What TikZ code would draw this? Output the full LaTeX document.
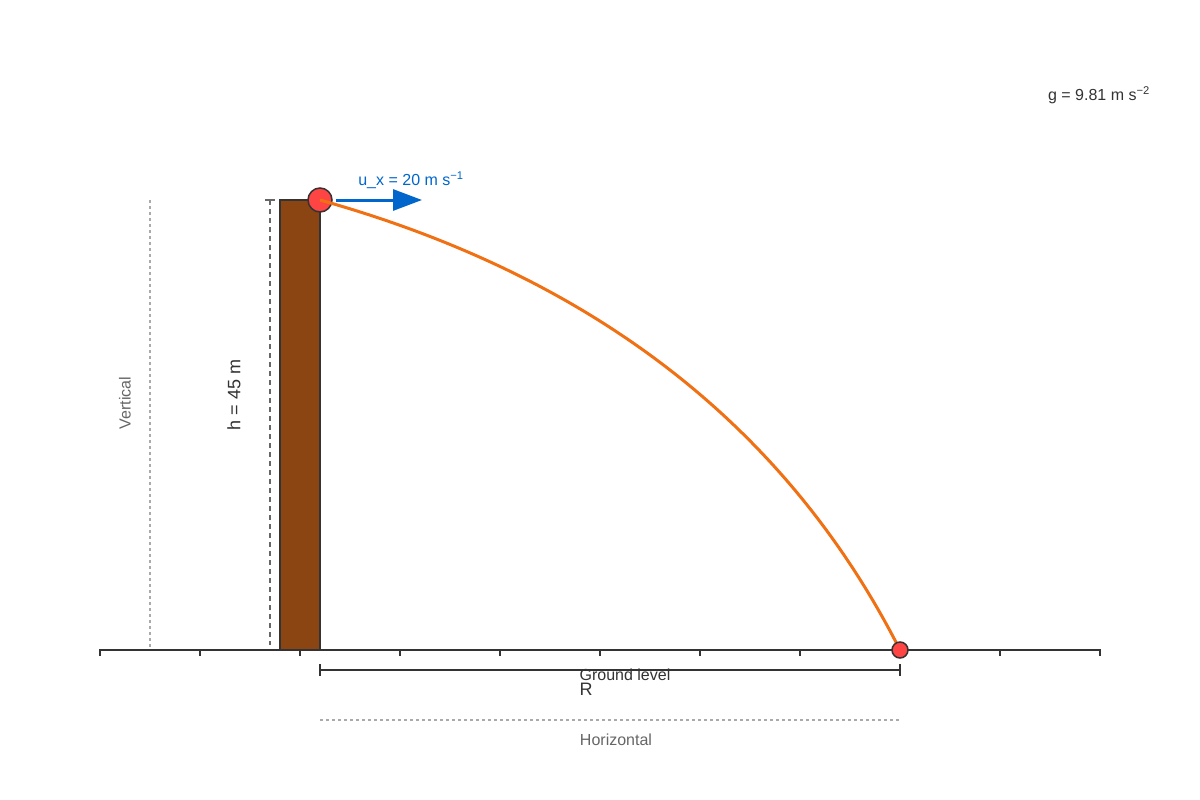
\documentclass[tikz,border=0pt]{standalone}
\usepackage{fontspec}
\setmainfont{Liberation Sans}
\usetikzlibrary{arrows.meta}

\definecolor{towerbrown}{HTML}{8B4513}
\definecolor{ballred}{HTML}{FF4444}
\definecolor{pathorange}{HTML}{F07014}
\definecolor{velblue}{HTML}{0066CC}
\definecolor{darkline}{HTML}{333333}
\definecolor{guidegray}{HTML}{AAAAAA}
\definecolor{labelgray}{HTML}{666666}

\tikzset{
  ball/.style={circle, draw=darkline, line width=1.5pt, fill=ballred, inner sep=0pt},
  label16/.style={font=\fontsize{16}{19}\selectfont, inner sep=0pt},
  guide/.style={guidegray, line width=2pt, dash pattern=on 3pt off 3pt}
}

\begin{document}
\begin{tikzpicture}[x=1pt, y=-1pt]
  \useasboundingbox (0,0) rectangle (1200,800);

  % Ground
  \coordinate (gleft) at (100,650);
  \coordinate (gright) at (1100,650);
  \draw[darkline, line width=2pt] (gleft) -- (gright);
  \foreach \x in {100,200,...,1100}
    \draw[darkline, line width=2pt] (\x,649) -- (\x,656);

  % Tower
  \draw[darkline, line width=1.5pt, fill=towerbrown] (280,200) rectangle (320,650);

  % Launch and impact points
  \coordinate (launch) at (320,200);
  \coordinate (impact) at (900,650);

  % Ball at the top
  \node[ball, minimum size=24pt] (ballA) at (launch) {};

  % Trajectory
  \draw[pathorange, line width=3pt] (launch) .. controls (593.3,276.7) and (786.7,426.7) .. (impact);

  % Ball on the ground
  \node[ball, minimum size=16pt] (ballB) at (impact) {};

  % Horizontal velocity
  \coordinate (vtip) at (422,200);
  \draw[velblue, line width=3pt, -{Triangle[length=29pt, width=21pt]}] (ballA.east) ++(3,0) -- (vtip);
  \node[label16, velblue] (ux) at (411,180) {u\_x = 20 m s\textsuperscript{−1}};

  % Height h
  \coordinate (htop) at (270,200);
  \coordinate (hbot) at (270,645);
  \draw[labelgray, line width=1.5pt, dash pattern=on 5pt off 4pt] (htop) -- (hbot);
  \draw[labelgray, line width=1.5pt] (265,200) -- (275,200);
  \node[label16, darkline, font=\fontsize{18}{21}\selectfont, rotate=90] (hlab) at (234,395) {h = 45 m};

  % Vertical guide
  \coordinate (vtop) at (150,200);
  \coordinate (vbot) at (150,648);
  \draw[guide] (vtop) -- (vbot);
  \node[label16, labelgray, rotate=90] (vlab) at (125,403) {Vertical};

  % Range R
  \coordinate (rleft) at (320,670);
  \coordinate (rright) at (900,670);
  \draw[darkline, line width=2pt] (rleft) -- (rright);
  \draw[darkline, line width=2pt] (320,664) -- (320,676);
  \draw[darkline, line width=2pt] (900,664) -- (900,676);
  \node[label16, darkline] (glab) at (625,675) {Ground level};
  \node[label16, darkline, font=\fontsize{18}{21}\selectfont] (rlab) at (586,689) {R};

  % Horizontal guide
  \coordinate (hleft) at (320,720);
  \coordinate (hright) at (900,720);
  \draw[guide] (hleft) -- (hright);
  \node[label16, labelgray] (horlab) at (616,740) {Horizontal};

  % Gravity
  \node[label16, darkline] (glabel) at (1099,95) {g = 9.81 m s\textsuperscript{−2}};

\end{tikzpicture}
\end{document}
